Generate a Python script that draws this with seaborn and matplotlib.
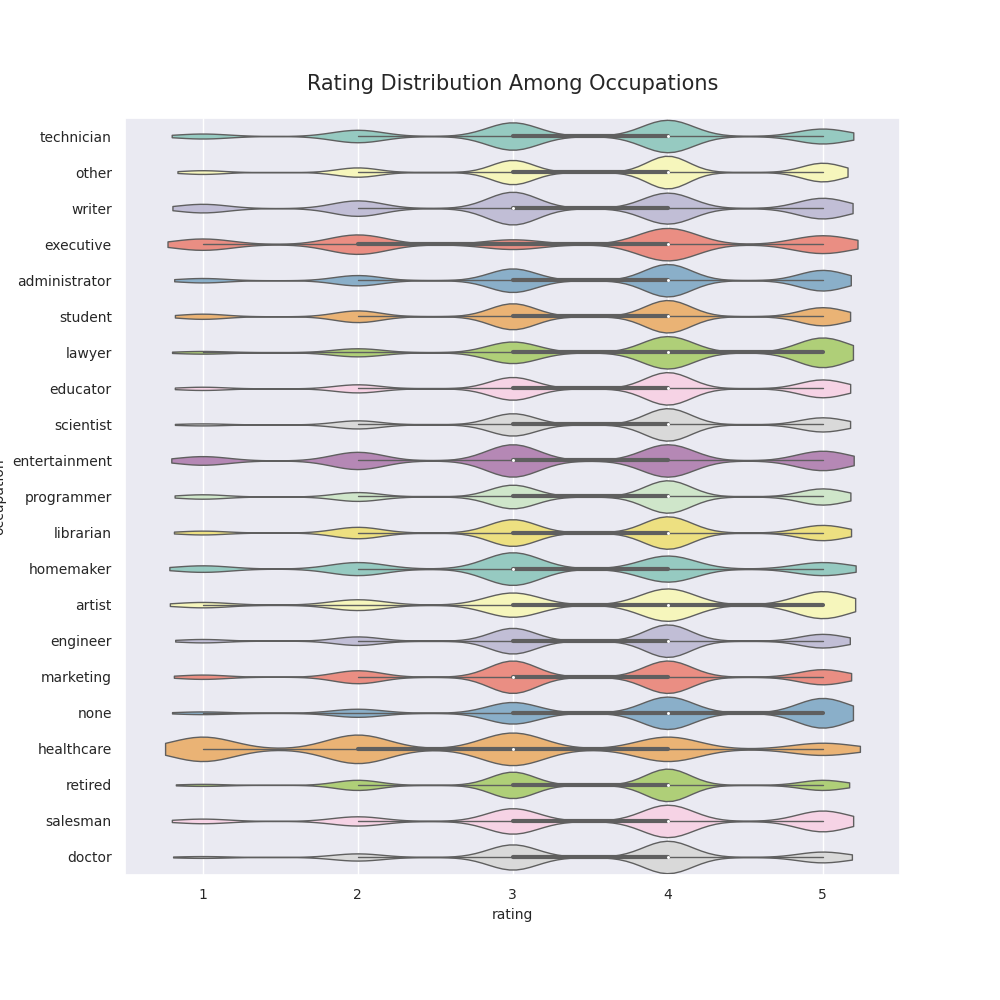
import numpy as np
import pandas as pd
import seaborn as sns
import matplotlib.pyplot as plt

occupations = ["technician", "other", "writer", "executive", "administrator", "student",
               "lawyer", "educator", "scientist", "entertainment", "programmer", "librarian",
               "homemaker", "artist", "engineer", "marketing", "none", "healthcare",
               "retired", "salesman", "doctor"]
# counts of ratings 1..5 per occupation (estimated)
rating_counts = {
    "technician":    [20, 50, 110, 130, 60],
    "other":         [40, 100, 260, 350, 200],
    "writer":        [50, 90, 190, 180, 120],
    "executive":     [70, 120, 60, 200, 110],
    "administrator": [30, 70, 160, 220, 140],
    "student":       [40, 90, 200, 250, 140],
    "lawyer":        [10, 30, 80, 120, 110],
    "educator":      [20, 50, 140, 200, 110],
    "scientist":     [10, 40, 110, 160, 70],
    "entertainment": [40, 80, 150, 150, 90],
    "programmer":    [30, 60, 160, 220, 110],
    "librarian":     [20, 60, 140, 170, 80],
    "homemaker":     [20, 40, 100, 80, 40],
    "artist":        [20, 40, 90, 120, 100],
    "engineer":      [20, 50, 150, 190, 80],
    "marketing":     [20, 60, 150, 150, 70],
    "none":          [10, 30, 80, 120, 110],
    "healthcare":    [60, 70, 80, 60, 30],
    "retired":       [10, 50, 130, 160, 50],
    "salesman":      [20, 40, 110, 140, 90],
    "doctor":        [5, 20, 70, 90, 30],
}
ratings = [1, 2, 3, 4, 5]

rows = []
for occ in occupations:
    for r, c in zip(ratings, rating_counts[occ]):
        rows += [(occ, r)] * c
df = pd.DataFrame(rows, columns=["occupation", "rating"])

sns.set_theme(style="darkgrid", rc={"font.size": 10, "axes.labelsize": 10,
                                    "xtick.labelsize": 10, "ytick.labelsize": 10})
fig, ax = plt.subplots(figsize=(10, 10))
fig.subplots_adjust(left=0.125, right=0.9, top=0.882, bottom=0.125)
sns.violinplot(data=df, x="rating", y="occupation", hue="occupation", order=occupations,
               palette="Set3", legend=False, ax=ax, width=0.9, bw_adjust=0.5, cut=1.2,
               linewidth=1, inner_kws=dict(box_width=3, whis_width=1, marker=".", markersize=3))
ax.set_xlim(0.5, 5.5)
ax.set_title("Rating Distribution Among Occupations", fontsize=15, pad=20)
ax.set_xticks(ratings)
plt.savefig("out.png", dpi=100)
